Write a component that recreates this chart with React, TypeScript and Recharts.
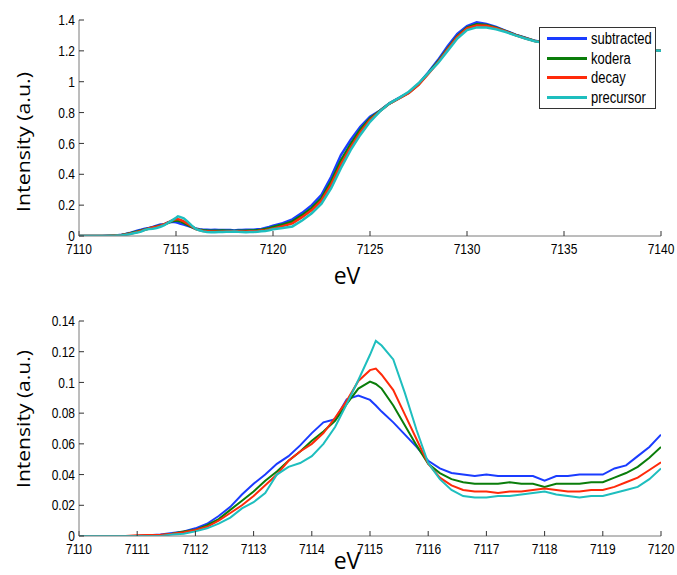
import React from "react";
import { LineChart, Line, XAxis, YAxis, Legend } from "recharts";

// photon energy (eV): 0.2 eV steps over the pre-edge, 0.5 eV above 7120
const ENERGY = [
  7110, 7110.2, 7110.4, 7110.6, 7110.8, 7111, 7111.2, 7111.4, 7111.6, 7111.8,
  7112, 7112.2, 7112.4, 7112.6, 7112.8, 7113, 7113.2, 7113.4, 7113.6, 7113.8,
  7114, 7114.2, 7114.4, 7114.6, 7114.8, 7115, 7115.1, 7115.2, 7115.4, 7115.6, 7115.8,
  7116, 7116.2, 7116.4, 7116.6, 7116.8, 7117, 7117.2, 7117.4, 7117.6, 7117.8,
  7118, 7118.2, 7118.4, 7118.6, 7118.8, 7119, 7119.2, 7119.4, 7119.6, 7119.8,
  7120, 7120.5, 7121, 7121.5, 7122, 7122.5, 7123, 7123.5, 7124, 7124.5,
  7125, 7125.5, 7126, 7126.5, 7127, 7127.5, 7128, 7128.5, 7129, 7129.5,
  7130, 7130.5, 7131, 7131.5, 7132, 7132.5, 7133, 7133.5, 7134, 7134.5,
  7135, 7135.5, 7136, 7136.5, 7137, 7137.5, 7138, 7138.5, 7139, 7139.5, 7140,
];

const SUBTRACTED = [
  0, 0, 0, 0, 0, 0, 0.0005, 0.001, 0.002, 0.003,
  0.005, 0.008, 0.013, 0.019, 0.027, 0.034, 0.04, 0.047, 0.052, 0.059,
  0.067, 0.074, 0.076, 0.089, 0.0915, 0.0886, 0.085, 0.081, 0.074, 0.066, 0.058,
  0.049, 0.044, 0.041, 0.04, 0.039, 0.04, 0.039, 0.039, 0.039, 0.039,
  0.036, 0.039, 0.039, 0.04, 0.04, 0.04, 0.044, 0.046, 0.052, 0.058,
  0.066, 0.083, 0.108, 0.15, 0.2, 0.266, 0.384, 0.525, 0.622, 0.708,
  0.773, 0.812, 0.86, 0.895, 0.93, 0.985, 1.06, 1.14, 1.23, 1.31,
  1.36, 1.385, 1.375, 1.355, 1.33, 1.305, 1.285, 1.265, 1.255, 1.248,
  1.242, 1.236, 1.231, 1.226, 1.222, 1.218, 1.214, 1.211, 1.208, 1.204, 1.2,
];

const KODERA = [
  0, 0, 0, 0, 0, 0, 0.0003, 0.0005, 0.0015, 0.003,
  0.004, 0.007, 0.011, 0.017, 0.023, 0.029, 0.036, 0.042, 0.049, 0.055,
  0.062, 0.068, 0.075, 0.086, 0.096, 0.1005, 0.099, 0.096, 0.085, 0.072, 0.059,
  0.047, 0.041, 0.037, 0.035, 0.034, 0.034, 0.034, 0.035, 0.034, 0.034,
  0.032, 0.034, 0.034, 0.034, 0.035, 0.035, 0.038, 0.041, 0.045, 0.051,
  0.058, 0.074, 0.095, 0.135, 0.182, 0.245, 0.355, 0.49, 0.595, 0.69,
  0.762, 0.81, 0.858, 0.893, 0.928, 0.982, 1.055, 1.13, 1.215, 1.295,
  1.35, 1.372, 1.368, 1.35, 1.328, 1.303, 1.283, 1.264, 1.254, 1.247,
  1.241, 1.235, 1.23, 1.225, 1.221, 1.217, 1.213, 1.21, 1.207, 1.204, 1.2,
];

const DECAY = [
  0, 0, 0, 0, 0, 0.0005, 0.0006, 0.0008, 0.0015, 0.0025,
  0.004, 0.006, 0.01, 0.015, 0.02, 0.026, 0.033, 0.04, 0.049, 0.055,
  0.06, 0.067, 0.077, 0.088, 0.101, 0.108, 0.109, 0.105, 0.095, 0.079, 0.063,
  0.047, 0.038, 0.033, 0.03, 0.029, 0.029, 0.028, 0.029, 0.029, 0.03,
  0.031, 0.03, 0.029, 0.029, 0.03, 0.03, 0.032, 0.035, 0.038, 0.043,
  0.048, 0.064, 0.082, 0.122, 0.168, 0.23, 0.335, 0.465, 0.575, 0.672,
  0.752, 0.808, 0.858, 0.892, 0.927, 0.98, 1.05, 1.125, 1.21, 1.29,
  1.345, 1.365, 1.362, 1.347, 1.326, 1.302, 1.282, 1.263, 1.253, 1.246,
  1.24, 1.235, 1.23, 1.225, 1.221, 1.217, 1.213, 1.21, 1.207, 1.204, 1.2,
];

const PRECURSOR = [
  0, 0, 0, 0, 0, 0, 0, 0, 0.001, 0.0015,
  0.003, 0.005, 0.008, 0.012, 0.018, 0.022, 0.028, 0.04, 0.045, 0.0475,
  0.052, 0.06, 0.071, 0.086, 0.1016, 0.118, 0.127, 0.124, 0.115, 0.093, 0.069,
  0.0475, 0.037, 0.03, 0.026, 0.025, 0.025, 0.026, 0.026, 0.027, 0.028,
  0.029, 0.027, 0.026, 0.025, 0.026, 0.026, 0.028, 0.03, 0.032, 0.037,
  0.044, 0.052, 0.062, 0.1, 0.147, 0.21, 0.31, 0.44, 0.557, 0.655,
  0.74, 0.806, 0.86, 0.895, 0.935, 0.99, 1.055, 1.12, 1.2, 1.28,
  1.335, 1.352, 1.352, 1.34, 1.322, 1.3, 1.28, 1.262, 1.252, 1.245,
  1.24, 1.235, 1.23, 1.225, 1.221, 1.217, 1.213, 1.21, 1.207, 1.204, 1.2,
];

const TOP_X_TICKS = [7110, 7115, 7120, 7125, 7130, 7135, 7140];
const TOP_Y_TICKS = [0, 0.2, 0.4, 0.6, 0.8, 1, 1.2, 1.4];
const ZOOM_X_TICKS = [7110, 7111, 7112, 7113, 7114, 7115, 7116, 7117, 7118, 7119, 7120];
const ZOOM_Y_TICKS = [0, 0.02, 0.04, 0.06, 0.08, 0.1, 0.12, 0.14];

const SERIES = [
  { key: "subtracted", color: "#1a3cff" },
  { key: "kodera", color: "#0a7d0a" },
  { key: "decay", color: "#ff2a0a" },
  { key: "precursor", color: "#1ebebe" },
];

const rows = ENERGY.map((e, i) => ({
  e,
  subtracted: SUBTRACTED[i],
  kodera: KODERA[i],
  decay: DECAY[i],
  precursor: PRECURSOR[i],
}));
const zoomRows = rows.filter((r) => r.e <= 7120);

const AXIS = "#7a7a7a";
const SANS = "'Liberation Sans', Arial, sans-serif";
const LABEL_FONT = "'Open Sans', 'Noto Sans', sans-serif";

// matlab export is stretched vertically, so stretch the tick text a bit too
function XTick({ x, y, payload }: any) {
  return (
    <text transform={`translate(${x},${y}) scale(1,1.22)`} textAnchor="middle" dy="0.71em" fontSize={12} fontFamily={SANS} fill="#000">
      {String(payload.value)}
    </text>
  );
}

function YTick({ x, y, payload }: any) {
  return (
    <text transform={`translate(${x},${y}) scale(1,1.22)`} textAnchor="end" dy="0.355em" fontSize={12} fontFamily={SANS} fill="#000">
      {String(payload.value)}
    </text>
  );
}

function LegendBox() {
  return (
    <div
      style={{
        border: "1px solid #333",
        background: "#fff",
        width: 117,
        height: 82,
        boxSizing: "border-box",
        padding: "1px 0 0 7px",
        fontFamily: SANS,
        fontSize: 13,
        color: "#000",
      }}
    >
      {SERIES.map((s) => (
        <div key={s.key} style={{ display: "flex", alignItems: "center", height: 19.5 }}>
          <span style={{ width: 40, borderTop: `3px solid ${s.color}`, marginRight: 4 }} />
          <span style={{ lineHeight: 1, display: "inline-block", transform: "scaleY(1.2)" }}>{s.key}</span>
        </div>
      ))}
    </div>
  );
}

function Panel({ data, height, top, xDomain, xTicks, yDomain, yTicks, strokeWidth, xHeight, legend }: any) {
  return (
    <LineChart width={677} height={height} data={data} margin={{ top, right: 16, bottom: 0, left: 0 }}>
      <XAxis
        dataKey="e"
        type="number"
        domain={xDomain}
        ticks={xTicks}
        interval={0}
        allowDataOverflow
        height={xHeight}
        tickSize={-5}
        tickMargin={13}
        axisLine={{ stroke: AXIS }}
        tickLine={{ stroke: "#333" }}
        tick={<XTick />}
      />
      <XAxis
        xAxisId="top"
        orientation="top"
        dataKey="e"
        type="number"
        domain={xDomain}
        ticks={xTicks}
        interval={0}
        allowDataOverflow
        height={0}
        tickSize={-5}
        axisLine={{ stroke: AXIS }}
        tickLine={{ stroke: "#333" }}
        tick={false}
      />
      <YAxis
        type="number"
        domain={yDomain}
        ticks={yTicks}
        interval={0}
        allowDataOverflow
        width={79}
        tickSize={-5}
        tickMargin={9}
        axisLine={{ stroke: AXIS }}
        tickLine={{ stroke: "#333" }}
        tick={<YTick />}
      />
      <YAxis
        yAxisId="right"
        orientation="right"
        type="number"
        domain={yDomain}
        ticks={yTicks}
        interval={0}
        allowDataOverflow
        width={0}
        tickSize={-5}
        axisLine={{ stroke: AXIS }}
        tickLine={{ stroke: "#333" }}
        tick={false}
      />
      {SERIES.map((s) => (
        <Line
          key={s.key}
          dataKey={s.key}
          name={s.key}
          stroke={s.color}
          strokeWidth={strokeWidth}
          dot={false}
          type="linear"
          isAnimationActive={false}
        />
      ))}
      {legend && (
        <Legend
          layout="vertical"
          align="center"
          verticalAlign="middle"
          content={<LegendBox />}
          wrapperStyle={{ left: 539, top: 27, width: 117 }}
        />
      )}
    </LineChart>
  );
}

export default function App() {
  return (
    <div style={{ position: "fixed", left: 0, top: 0, width: 677, height: 575, background: "#fff", overflow: "hidden" }}>
      <div style={{ position: "absolute", left: 0, top: 0 }}>
        <Panel
          data={rows}
          height={290}
          top={20}
          xHeight={54}
          xDomain={[7110, 7140]}
          xTicks={TOP_X_TICKS}
          yDomain={[0, 1.4]}
          yTicks={TOP_Y_TICKS}
          strokeWidth={2.5}
          legend
        />
      </div>
      <div style={{ position: "absolute", left: 0, top: 290 }}>
        <Panel
          data={zoomRows}
          height={285}
          top={31}
          xHeight={39}
          xDomain={[7110, 7120]}
          xTicks={ZOOM_X_TICKS}
          yDomain={[0, 0.14]}
          yTicks={ZOOM_Y_TICKS}
          strokeWidth={2}
        />
      </div>
      <svg width={677} height={575} style={{ position: "absolute", left: 0, top: 0, pointerEvents: "none" }}>
        <g fontFamily={LABEL_FONT} fill="#000">
          <text transform="translate(30,142) rotate(-90)" textAnchor="middle" fontSize={18} textLength={140} lengthAdjust="spacingAndGlyphs">
            Intensity (a.u.)
          </text>
          <text x={347} y={284} textAnchor="middle" fontSize={23}>eV</text>
          <text transform="translate(30,419) rotate(-90)" textAnchor="middle" fontSize={18} textLength={138} lengthAdjust="spacingAndGlyphs">
            Intensity (a.u.)
          </text>
          <text x={347} y={569} textAnchor="middle" fontSize={23}>eV</text>
        </g>
      </svg>
    </div>
  );
}
